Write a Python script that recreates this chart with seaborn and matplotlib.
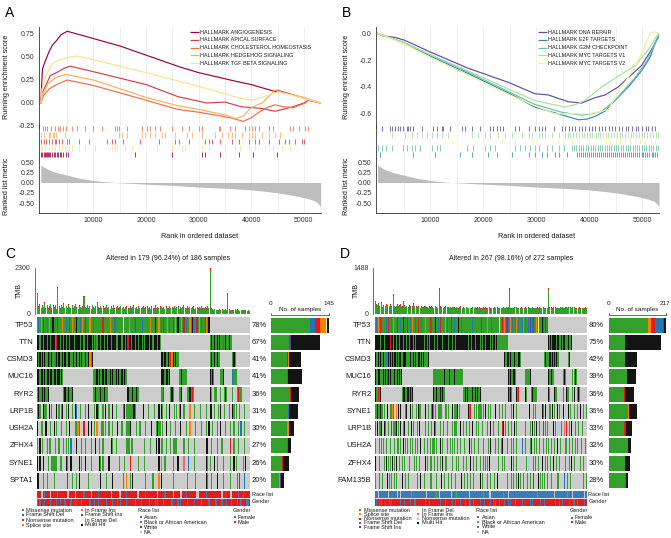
import numpy as np
import pandas as pd
import matplotlib
matplotlib.use("Agg")
import matplotlib.pyplot as plt
from matplotlib.colors import ListedColormap
import seaborn as sns

sns.set_theme(style="white")
plt.rcParams["font.family"] = ["Liberation Sans", "DejaVu Sans"]
plt.rcParams["axes.unicode_minus"] = False

# ======================= GSEA data (ranks in thousands) =======================
metric_rank = [0, 0.5, 1.5, 3, 5, 7.5, 10, 12, 14, 17, 20, 25, 30, 35, 40, 43, 46, 49, 51, 52.3, 53.0, 53.2]
metric_val = [0.43, 0.38, 0.31, 0.24, 0.18, 0.10, 0.05, 0.02, 0.0, -0.02, -0.04, -0.07, -0.11, -0.14,
              -0.18, -0.22, -0.27, -0.34, -0.40, -0.46, -0.55, -0.60]

a_names = ["HALLMARK ANGIOGENESIS", "HALLMARK APICAL SURFACE", "HALLMARK CHOLESTEROL HOMEOSTASIS",
           "HALLMARK HEDGEHOG SIGNALING", "HALLMARK TGF BETA SIGNALING"]
a_colors = ["#9E0142", "#D53E4F", "#F46D43", "#FDAE61", "#FEE08B"]
a_angio_x = [0, 0.15, 0.3, 0.8, 1.5, 2.2, 3.0, 3.8, 5.0, 15, 26.5, 30, 37.5, 40, 44.8, 44.85, 53.2]
a_angio_y = [0, 0.2, 0.37, 0.45, 0.55, 0.63, 0.68, 0.74, 0.78, 0.62, 0.39, 0.33, 0.23, 0.2, 0.12, 0.14, 0.0]
a_apical_x = [0, 0.2, 1.0, 1.8, 3.0, 4.5, 5.6, 10, 20, 26, 31.5, 35, 38, 42, 44.5, 46, 48, 50, 50.8, 53.2]
a_apical_y = [0, 0.1, 0.2, 0.3, 0.33, 0.38, 0.40, 0.34, 0.2, 0.07, 0.0, 0.01, -0.04, -0.06, -0.09, -0.07,
              -0.04, 0.0, 0.03, 0.0]
a_chol_x = [0, 0.5, 1.5, 3.0, 5.0, 10, 20, 26, 30, 36, 38.5, 40, 41.5, 43, 44.5, 46, 48, 50.3, 50.8, 53.2]
a_chol_y = [0, 0.08, 0.15, 0.2, 0.25, 0.19, 0.03, -0.07, -0.1, -0.16, -0.2, -0.16, -0.1, -0.05, -0.02,
            -0.04, -0.05, 0.0, 0.03, 0.0]
a_hedge_x = [0, 0.4, 1.5, 3.0, 4.7, 10, 20, 26, 30, 35, 37, 38.5, 40, 42, 43.5, 44.5, 47, 50, 53.2]
a_hedge_y = [0, 0.1, 0.22, 0.28, 0.31, 0.25, 0.06, -0.03, -0.07, -0.13, -0.17, -0.14, -0.05, 0.0, 0.08,
             0.14, 0.1, 0.06, 0.0]
a_tgf_x = [0, 0.2, 1.0, 2.0, 3.5, 5.5, 7.0, 10, 20, 30, 35, 38, 40, 42, 44, 45, 48, 53.2]
a_tgf_y = [0, 0.15, 0.3, 0.42, 0.47, 0.5, 0.51, 0.47, 0.33, 0.18, 0.1, 0.05, 0.03, 0.06, 0.1, 0.12, 0.08, 0.0]

a_hits_chol = [0.33, 0.71, 1.15, 1.97, 2.73, 3.18, 3.69, 4.13, 4.76, 5.9, 6.85, 8.43, 10.0, 11.6, 14.0, 14.45,
               14.9, 16.35, 19.2, 20.15, 20.8, 21.75, 22.7, 24.9, 26.8, 28.1, 30.0, 30.6, 33.8, 34.1, 36.0,
               36.95, 38.85, 39.5, 40.1, 40.75, 41.4, 43.3, 44.2, 47.4, 48.0, 49.0, 50.25, 50.75]
a_hits_hedge = [0.08, 0.52, 1.47, 1.79, 2.23, 2.42, 2.86, 4.64, 14.8, 15.4, 16.35, 19.2, 19.85, 20.8, 21.75,
                23.0, 23.65, 25.55, 27.75, 28.7, 30.6, 33.15, 34.4, 35.65, 36.3, 36.95, 38.2, 39.5, 40.1,
                40.75, 42.0, 43.3, 44.55, 45.5]
a_hits_apical = [0.08, 0.52, 0.96, 1.6, 2.1, 2.6, 2.86, 3.37, 4.0, 4.95, 5.27, 7.17, 9.07, 12.55, 13.5, 14.15,
                 15.7, 18.9, 22.4, 25.55, 26.2, 28.1, 31.25, 31.9, 32.5, 34.1, 36.3, 37.6, 39.5, 40.75, 41.4,
                 43.3, 45.2, 46.45, 47.1, 48.35, 49.6, 50.1]
a_hits_tgf = [0.05, 0.2, 0.84, 1.47, 2.1, 2.74, 3.37, 4.0, 4.64, 4.95, 5.27, 5.9, 7.17, 8.44, 10.35, 13.5,
              14.15, 14.45, 16.05, 17.3, 22.05, 24.9, 26.8, 27.45, 30.6, 31.9, 35.05, 36.95, 37.9, 39.5,
              40.75, 42.65, 43.3, 44.2, 45.8, 47.4]
a_hits_angio = [0.1, 0.3, 0.5, 0.7, 0.9, 1.1, 1.3, 1.5, 1.8, 2.1, 2.4, 2.7, 3.0, 3.3, 3.6, 3.9, 4.3, 4.7, 5.1,
                17.9, 24.9, 30.6, 31.2, 34.1, 37.6, 40.4, 44.8]

b_names = ["HALLMARK DNA REPAIR", "HALLMARK E2F TARGETS", "HALLMARK G2M CHECKPOINT",
           "HALLMARK MYC TARGETS V1", "HALLMARK MYC TARGETS V2"]
b_colors = ["#5E4FA2", "#3288BD", "#66C2A5", "#ABDDA4", "#E6F598"]
b_dna_x = [0, 1.0, 3.2, 5, 10, 17.1, 25, 29.7, 32.3, 36, 38.6, 41.1, 43, 45.5, 47.4, 49.9, 51.8, 53.1]
b_dna_y = [0, -0.02, -0.03, -0.05, -0.14, -0.26, -0.37, -0.45, -0.46, -0.51, -0.52, -0.48, -0.46, -0.40,
           -0.33, -0.24, -0.12, -0.03]
b_e2f_x = [0, 5, 10, 17.1, 25, 29.7, 35, 38, 39.5, 41.1, 43, 44.9, 47.4, 49.9, 51.5, 52.5, 53.2]
b_e2f_y = [0, -0.07, -0.17, -0.30, -0.45, -0.55, -0.61, -0.645, -0.64, -0.62, -0.58, -0.5, -0.4, -0.28,
           -0.18, -0.07, -0.01]
b_g2m_x = [0, 5, 10, 17.1, 25, 29.7, 35, 38.6, 40.5, 42.4, 44.9, 48.7, 51, 52.5, 53.2]
b_g2m_y = [0, -0.07, -0.16, -0.29, -0.44, -0.53, -0.59, -0.61, -0.6, -0.58, -0.5, -0.33, -0.2, -0.07, -0.01]
b_myc1_x = [0, 5, 10, 17.1, 25, 29.7, 33, 35.4, 37.5, 39.2, 42.4, 45.5, 48.7, 51.2, 53.1]
b_myc1_y = [0, -0.07, -0.16, -0.28, -0.42, -0.5, -0.53, -0.55, -0.53, -0.5, -0.4, -0.32, -0.24, -0.12, 0.0]
b_myc2_x = [0, 5, 10, 17.1, 25, 29.7, 33.5, 37, 40, 43.6, 45.5, 48.7, 49.9, 51.5, 52.5, 53.1]
b_myc2_y = [0, -0.08, -0.18, -0.31, -0.46, -0.54, -0.6, -0.6, -0.6, -0.57, -0.44, -0.25, -0.15, 0.0, 0.01, 0.0]

b_hits_dna = [0.76, 2.34, 2.78, 3.28, 3.79, 4.23, 4.86, 5.49, 5.81, 6.12, 6.76, 8.33, 10.54, 11.17, 12.12,
              12.44, 13.7, 15.91, 16.54, 17.8, 19.38, 21.28, 21.91, 22.54, 23.17, 23.8, 26.01, 26.64, 28.54,
              29.8, 30.43, 31.06, 31.69, 33.27, 34.85, 35.4, 36.2, 36.7, 37.3, 38.1, 38.6, 39.2, 39.9, 40.6,
              41.1, 41.8, 42.5, 43.0, 43.7, 44.4, 44.9, 45.6, 46.2, 46.9, 47.4, 48.1, 48.8, 49.3, 50.0, 50.7,
              51.2, 51.9, 52.5]
b_hits_myc1 = [2.65, 5.18, 6.44, 7.39, 8.33, 9.28, 10.23, 11.17, 12.12, 13.38, 17.8, 19.07, 20.33, 21.28,
               22.85, 24.12, 25.38, 27.27, 28.54, 29.17, 30.43, 31.06, 31.69, 32.95, 34.22, 35.5, 36.0, 36.4,
               37.0, 37.5, 38.0, 38.6, 39.0, 39.5, 40.1, 40.6, 41.2, 41.6, 42.1, 42.7, 43.2, 43.6, 44.2, 44.7,
               45.3, 45.8, 46.2, 46.8, 47.3, 47.9, 48.3, 48.8, 49.4, 49.9, 50.3, 50.9, 51.5, 52.0, 52.6, 53.0]
b_hits_myc2 = [14.0, 23.5, 26.0, 29.2, 34.2, 36.7, 38.0, 43.1, 44.0, 45.0, 45.9, 46.8, 47.8, 48.7, 49.7,
               50.6, 51.6, 52.5]
b_hits_g2m = [0.13, 0.76, 1.52, 2.65, 4.86, 5.49, 6.44, 7.07, 8.02, 10.23, 11.17, 11.81, 16.86, 18.12, 20.33,
              21.28, 22.22, 26.01, 26.96, 27.9, 28.85, 29.8, 30.43, 32.01, 32.95, 34.22, 35.17, 36.7, 37.2,
              37.6, 38.1, 38.5, 38.9, 39.4, 39.8, 40.3, 40.7, 41.1, 41.6, 42.0, 42.5, 42.9, 43.3, 43.8, 44.2,
              44.7, 45.1, 45.5, 46.0, 46.4, 46.9, 47.3, 47.7, 48.2, 48.6, 49.1, 49.5, 49.9, 50.4, 50.8, 51.3,
              51.7, 52.1, 52.6, 53.0]
b_hits_e2f = [0.44, 6.76, 10.86, 15.59, 17.8, 20.96, 22.54, 25.38, 28.54, 29.8, 31.06, 32.01, 33.59, 34.22,
              35.8, 37.7, 38.1, 38.5, 38.8, 39.2, 39.6, 40.0, 40.4, 40.7, 41.1, 41.5, 41.9, 42.3, 42.6, 43.0,
              43.4, 43.8, 44.2, 44.5, 44.9, 45.3, 45.7, 46.1, 46.4, 46.8, 47.2, 47.6, 48.0, 48.3, 48.7, 49.1,
              49.5, 49.9, 50.2, 50.6, 51.0, 51.4, 51.8, 52.1, 52.5, 52.9]

rank_ticks = [10000, 20000, 30000, 40000, 50000]

# ======================= Oncoplot data =======================
# codes: . none, M missense, F frame shift del, N nonsense, S splice site, I in frame ins,
#        X frame shift ins, D in frame del, H multi hit, O nonsense (light blue, panel D)
c_genes = ["TP53", "TTN", "CSMD3", "MUC16", "RYR2", "LRP1B", "USH2A", "ZFHX4", "SYNE1", "SPTA1"]
c_pcts = ["78%", "67%", "41%", "41%", "36%", "31%", "30%", "27%", "26%", "20%"]
c_title = "Altered in 179 (96.24%) of 186 samples"
c_tmb_max = 2300
c_bar_max = 145
c_rows = [
    "MFMSMNMMFM SMMHMFMNMM MSMMFMMNMS MMMHMMFMSM NMMMSMMFMM MMMMMNMMMM MSMMMFMMMM MMDMMMMSMM "
    "MMNMMMMMFM MMMMMSMMMH MMSMFMNMMS MFMMNMSMHM MSMNMFMMSM HMFMNMSMFM MNSMH" + "." * 34,
    "HHMHHMHHMH HMHHHMNHHM HHMHMHHMHH HMHHHHMHHM HHMHHHMHMX MHHMHHMHHM HHMHHHMMHH HMHHMHNHHM "
    "HHMHHMHHMH MHHHMHHMHH HMHM" + "." * 41 + "MHMMHMHMHMMFMHMMHMM" + "." * 15,
    "HMHMH MHMMH NMHMM FHMHM MHMHM MHHMM HMMHM HMHMM HMMHS MH" + "." * 57 + "HHMHM MHMNS HMHMM"
    + "." * 26 + "MHMMH MHMM" + "." * 10 + "MHM" + "." * 12,
    "HHMHH MHMHH MHHMH HMHHM HM" + "." * 25 + "MMFHM HMMHM HHMMH MHMMH MHMMH MHMM" + "." * 28
    + "HHHMHHMH" + "." * 7 + "MMHMMMM" + "." * 19 + "HMHM" + "." * 5 + "MMH" + "." * 7 + "FMMM" + "." * 11,
    "MHMMHMHMMH" + "." * 12 + "MHMMHMMH" + "." * 17 + "MMHMMMHMMHMMM" + "." * 16 + "HMMMHMMHMM" + "." * 18
    + "MMN" + "." * 5 + "MHM" + "." * 4 + "MMH" + "." * 4 + "MMHMNM" + "." * 13 + "HM" + "." * 2 + "MM"
    + "." * 3 + "M" + "." * 2 + "MHM" + "." * 4 + "M" + "." * 3 + "MNMM" + "." * 7,
    "MHM..HMM.. H.M...H.M. MH..M.H..M ..HF..M... M..H....M. HM...M.H.. M..H..M... ..MH.MMMMM MHM......H "
    "...M....M. ..H.HM..M. .H...M.M.M H..M....S. ..M....M.. ..M..HH..M ..M.H..M.. .M..HM.M.. M...M.....",
    "H..MM..H.. .M..H.M... M...M..H.. ..MMSM...N ...H.H..M. S...MM.M.. M..M...H.. .M...MMMH. ...M..M... "
    ".M....H... MHMM.M..H. ..M...M... H....M..S. ...M....M. ..M.H..M.. .M..H...M. ..M..M...M .F..M.....",
    "M.H.M...M. MM...M..M. ..M.M.M.F. ...H...M.. M....M...H ..M..M.... ..HM..M... .....MMM.M M......... "
    "M....M.... H.H.MM..M. ..M.MMMM.. ...M...M.. ..M....... ..HH..M... .M...M.... ..N..M...M ....M.....",
    "H.H..H...M ..MMMMM..M M...HM..H. .....H.M.. H....M.... ..HM.M.... H........M ...M....N. .....M.... "
    "M......... ..H.I..M.. ....M...H. ...I...F.. ..M....... ..HM.M...H .M....M... ..M..H.M.. ...M.H....",
    "HH...M..M. ....M..... .....N...M ...M.H.... ...M...... ...H....M. ...H...... ..M..S..M. H......... "
    ".M.....M.. ..S.H..... ....M..... ......M... ...M...... ..HM..M... .H....M... ..M.....M. X...F.....",
]
c_tmb = [1050, 380, 480, 290, 420, 340, 560, 300, 450, 260,
         370, 500, 270, 420, 320, 450, 240, 1330, 380, 300,
         430, 340, 530, 290, 400, 260, 460, 350, 300, 420,
         270, 370, 480, 320, 240, 420, 340, 290, 380, 870,
         350, 300, 420, 270, 370, 240, 450, 320, 290, 380,
         560, 340, 270, 400, 300, 370, 260, 350, 430, 290,
         320, 240, 380, 300, 420, 270, 340, 370, 260, 320,
         400, 290, 350, 240, 320, 380, 270, 300, 370, 260,
         340, 420, 290, 320, 240, 370, 300, 270, 350, 400,
         260, 320, 380, 290, 340, 240, 370, 300, 270, 420,
         300, 350, 260, 380, 320, 290, 340, 240, 370, 300,
         270, 400, 300, 340, 260, 370, 290, 320, 380, 240,
         350, 290, 320, 420, 270, 300, 370, 260, 340, 290,
         320, 380, 240, 300, 350, 270, 340, 290, 370, 260,
         300, 340, 270, 370, 290, 2300, 260, 220, 190, 240,
         170, 200, 180, 230, 160, 210, 190, 170, 240, 200,
         1020, 220, 180, 200, 160, 190, 230, 170, 210, 180,
         150, 200, 170, 190, 160, 180, 140, 170, 150, 160]
c_race = ("WWWUUWBWWW WUWWWWWBWW WWWWWUUWWW WWUWWWWWWB WWWWWUWWWW WBWWWWWWWW WWUWWWWWWU UWWWWBWWWW "
          "WWWWUUWWWW WBWWWWWWWW WUWWWWWBWW WWWWUWWWWW UUWWWBWWWW WWWWUUWWWW WWBWWWWWWW WWWWWUWWBW "
          "WWUUWWWWWA WWWBWWWWWW")
c_gender = ("FMFMMMFMMM MFMMMMFMMF MMMFMMMMFM MMFMMMMFMM MMMMFMMMFM MFMMMMMMFM MMMFMMMFMM FMMMMFMMMM "
            "MMFMMMMFMM MMMMFMMMMF MFMMMMFMMM MMMFMMMMFM FMMMMMFMMM MMFMMMMMFM MMMMFMMMMM FMMMMFMMMF "
            "MMMFMMMMFM MFMMMMFFMM")

d_genes = ["TP53", "TTN", "CSMD3", "MUC16", "RYR2", "SYNE1", "LRP1B", "USH2A", "ZFHX4", "FAM135B"]
d_pcts = ["80%", "75%", "42%", "39%", "36%", "36%", "33%", "32%", "30%", "28%"]
d_title = "Altered in 267 (98.16%) of 272 samples"
d_tmb_max = 1488
d_bar_max = 217
d_rows = [
    "MFMMSMNMFM MMHMFMMNMM FMMSMMFMNM MMFMMHMMFM NMMMFMMSMM MFMMNMMMFM MMMSMFMMMN MFMMMMHMMF "
    "MMNMFMMMSM MFMMMMNMMM FMMMMHMMFM MMMMMMMMMM MMFMMMMMMM MMMMNMMMMM MSMMMMFMMM MMMMMMDMMM "
    "NMFSMXNMFM SMNFMMFMSM FMNMMFMSMF MNMFMXMMFN MFMSMDMFMM HMFMXMNF" + "." * 49,
    "HHMHHHMHHH HMHHHHMHHN HHHMHHHMHH MHHHHMHHHM HHHMHHHHMH HMHHHMHHHH HHMHHHMHMH HHHHMHHHMH "
    "MHHHHMHHHH HHMHHHHMHH HMHHMHHHHM HHHHMHHMHH HMHHHHMHHH HHMHHMHHHM HHHHHMHMHH HMHHMMMMMM MMMMMMMM"
    + "." * 50 + "HMHHM HHMHH MHHHM MHHMH HMHMM HMHMH" + "." * 19,
    "HMHMH MHHMM HMHMF MHHMH MMHMH HMMHM HMHMM HMHHM MHMMH MHMHM MHMMH MHMHM MHMMM HMH" + "." * 95
    + "HMMHM HMHMH MMHMH MMHHM M" + "." * 29 + "MHMHM MHMHM HMMHM HMHM" + "." * 11 + "MH" + "." * 17,
    "HMHMH HMHMM HMHHM NMHMH MHMMH MHMHM HMMH" + "." * 39 + "MMHMM MMHMM MMMMH MMMMM HMMMM MMHMM MHMMM MHM"
    + "." * 57 + "HMHMHMHHM" + "." * 12 + "MMHMMMHM" + "." * 21 + "HMHMHMM" + "." * 12 + "MHMM" + "." * 7
    + "M" + "." * 1 + "MMHM" + "." * 13,
    "HMHMNMHM" + "." * 26 + "MHMHMMHMHMHMMH" + "." * 25 + "HMHMHMMHMHMHHMM" + "." * 23
    + "MMHMMHMHMMMHMMMHMMHMMHM" + "." * 34 + "HMHM" + "." * 5 + "MHMN" + "." * 8 + "HMM" + "." * 5
    + "MHMMIMM" + "." * 14 + "HMM" + "." * 4 + "MHMM" + "." * 8 + "M" + "." * 3 + "HMM" + "." * 4 + "M"
    + "." * 1 + "MH" + "." * 2 + "MMHM" + "." * 9,
    "MMHHMMH.MM .M...HM..M MMSM..MS.H ..H.....MH .M..H..M.. ..M.H.MM.. M..H...M.. HMHM..M..M MMMMM...M. "
    "M.M....H.. MMMH..M..M ....M..H.M N....M.M.. MMMMM.M..H ..M..M..M. .H....M... M.H.M..M.. .M..H...M. "
    "..M...M... .M..H....M ..M...M... HHM.H.M..M .M.H..M..H ..M..M.H.. M..H..M... .M...M..H. ..M...M...",
    "N..H.MM.H. .H.M..MM.. N..MMMMH.M ..H..M.H.. ..M..H..M. ...M..H... M..M...M.. HM..H.M... ..M...M..M "
    ".M..H..M.. MMM.M..H.. .M...M...M ..H....M.. M..M.M..M. .M...H...M ..M..M.... NH..M...M. .M...H..M. "
    "..I...M..M .M...M..H. M..H...M.. .HN.M..M.. M...H..M.. .O..M...I. .N..M..H.. ..M...M... .M..M.....",
    "M.F..M..M. M...M.H..M .M..M...MM ..M..H..M. M...M..M.. .M.M...H.. ..M...M..M M.MMM..M.. ..H..M...M "
    ".M...M.M.. M..M...M.. ..M.M....H .M...M..M. M..M..M... ..M..H..M. .M...M...M H.M...M... .M..M...M. "
    "..M..F...M .M...M.H.. M..M...M.. .HM..M..M. ..M...M..H M..M.D...M .M..M...M. ..M..M.... M....M....",
    "H.M..M.H.. .M..H..M.M ..H.M..H.. M...M..M.. .H.M..H..M ..M...M... M..H..M..M .M..M...M. ..M..H..M. "
    "M...M..M.. ..M..M...H .M...M..M. H...M..M.. ..M...M..M .M..H...M. ..M..M.... M..M...M.. .H..M...M. "
    "..M...M... M..O..H..M ..M..M.... HM..M..M.. .M..H...M. ..M..M...M M...M..H.. .M..M...M. ..M.....M.",
    "M.H..M...M ..M..H..M. M...M..M.. .M..H...M. ..M...M... M..M...H.. ..M..M...M .M...M.M.. M..H...M.. "
    "..M...M..M .M..M...H. ..M...M... M...M...M. ..H..M.... .M...M..M. M...H..M.. ..M...M... .M..M...M. "
    "H..M...M.. ..M..M...N .M...H..M. M..M...M.. ..M..X...M .M...M..F. ..M...M... M...M....M ..M...M...",
]
d_tmb = [420, 310, 925, 280, 350, 240, 300, 260, 380, 220,
         290, 330, 890, 250, 310, 270, 230, 340, 260, 300,
         240, 280, 320, 630, 260, 210, 290, 250, 310, 230,
         270, 220, 300, 260, 240, 420, 230, 280, 210, 260,
         250, 230, 200, 280, 240, 260, 210, 230, 350, 250,
         220, 260, 240, 200, 230, 210, 250, 190, 240, 220,
         260, 210, 230, 250, 200, 240, 220, 190, 230, 210,
         200, 240, 220, 180, 230, 210, 250, 200, 190, 220,
         210, 830, 230, 200, 190, 220, 180, 210, 240, 200,
         190, 220, 200, 180, 230, 210, 190, 200, 220, 180,
         200, 180, 220, 190, 210, 170, 200, 230, 190, 210,
         180, 210, 190, 200, 170, 220, 190, 180, 210, 200,
         190, 170, 210, 180, 200, 190, 220, 170, 190, 200,
         180, 200, 170, 210, 190, 180, 200, 170, 190, 210,
         170, 190, 200, 180, 210, 170, 190, 200, 180, 170,
         200, 180, 190, 170, 210, 190, 180, 200, 170, 190,
         180, 200, 170, 190, 180, 210, 170, 190, 200, 830,
         190, 170, 200, 180, 190, 210, 180, 170, 200, 190,
         180, 210, 190, 170, 200, 180, 190, 210, 170, 200,
         190, 180, 200, 210, 170, 190, 200, 180, 210, 190,
         180, 200, 190, 170, 210, 190, 180, 200, 190, 170,
         200, 180, 210, 190, 170, 200, 190, 180, 830, 210,
         190, 180, 200, 170, 210, 190, 180, 200, 190, 170,
         200, 190, 180, 210, 170, 1488, 200, 190, 180, 200,
         190, 210, 180, 200, 170, 190, 200, 180, 210, 190,
         180, 200, 190, 170, 200, 180, 190, 200, 170, 190,
         200, 180, 190, 170, 180, 200, 190, 170, 180, 190]
d_race = ("WWWWUWWWWW WWBWWWWUWW WWWWWWWWUW WWUWWWWWWW WWWWWBWWWW UWWWWWWWWW WWWWUWWWWW WWWWWWWBWW "
          "WUWWWWWWWW WWWWWWUWWW WWBWWWWWWW WWWWWWWWWU WWWUWWWWWW WWWWWWBWWW WWWWUUWWWW WWWWWWWWWW "
          "WBWWWWWWUW WWWWWWWWWW WWUWWWWAWW WWWWWWWWWW WWWWBWWWWW WUWWWWWWWW WWWWWWUWWW WWWWWWWWWW "
          "WWBWWWWWUW WWWWWWWWWW WWWUWWWWWW")
d_gender = ("MFMMMFMMFM MMMFMMMMFM FMMMMMFMMM MMFMMMMFMM MMMMFMMMMF MFMMMFMMMM MMMFMMMMFM FMMMMFMMMM "
            "MMFMMMMMFM MMMMFMMFMM MFMMMMMFMM MMMFMMMMMF FMMMFMMMMM MMFMMMMFMM MMMMMFMMMF MFMMMMFMMM "
            "MMMFMMMMFM FMMMMMFMMM MMFMMFMMMM MMMMMFMMFM MFMMMMMMFM MMMFMMFMMM FMMMMMMFMM MMFMMMFMMM "
            "MMMMFMMMMF MFMMMFMMMM MMMFMMMMFM")

MUT_COL = {".": "#CCCCCC", "M": "#33A02C", "F": "#1F78B4", "N": "#E31A1C", "S": "#FF7F00", "I": "#EE6A6A",
           "X": "#6A3D9A", "D": "#FFFF99", "H": "#141414", "O": "#A6CEE3"}
c_mut_legend = [("Missense mutation", "M"), ("Frame Shift Del", "F"), ("Nonsense mutation", "N"),
                ("Splice site", "S"), ("In Frame Ins", "I"), ("Frame Shift Ins", "X"),
                ("In Frame Del", "D"), ("Multi Hit", "H")]
d_mut_legend = [("Missense mutation", "M"), ("Splice site", "S"), ("Nonsense mutation", "N"),
                ("Frame Shift Del", "F"), ("Frame Shift Ins", "X"), ("In Frame Del", "D"),
                ("In Frame Ins", "I"), ("Nonsense mutation", "O"), ("Multi Hit", "H")]
c_race_pal = {"A": ("Asian", "#984EA3"), "B": ("Black or African American", "#377EB8"),
              "W": ("White", "#E41A1C"), "U": ("NA", "#C8C8C8")}
d_race_pal = {"A": ("Asian", "#984EA3"), "B": ("Black or African American", "#4DAF4A"),
              "W": ("White", "#377EB8"), "U": ("NA", "#C8C8C8")}
gender_pal = {"F": ("Female", "#377EB8"), "M": ("Male", "#E41A1C")}

# ======================= figure =======================
W, H = 671, 538
fig = plt.figure(figsize=(W / 100, H / 100), dpi=100)
ov = fig.add_axes([0, 0, 1, 1])
ov.set_xlim(0, W)
ov.set_ylim(H, 0)
ov.axis("off")
ov.set_zorder(10)

TXT = "#1A1A1A"
TICK_KW = dict(labelsize=5, length=2, width=0.5, pad=1.2, colors="#333333")


def px_axes(x0, y0, x1, y1):
    return fig.add_axes([x0 / W, 1 - y1 / H, (x1 - x0) / W, (y1 - y0) / H])


def clean(s, n):
    s = s.replace(" ", "")
    return s[:n].ljust(n, ".")


GRID = np.arange(5000, 53001, 5000)
XLIM = (-300, 53200)


def gsea(x0, x1, names, colors, curves, es_lim, es_ticks, es_labels, hit_rows, leg_x, lab_x, xlab_x):
    ax = px_axes(x0, 27, x1, 128)
    frames = [pd.DataFrame({"rank": np.asarray(cx) * 1000, "es": cy, "set": nm})
              for nm, (cx, cy) in zip(names, curves)]
    df = pd.concat(frames, ignore_index=True)
    sns.lineplot(data=df, x="rank", y="es", hue="set", hue_order=names,
                 palette=dict(zip(names, colors)), estimator=None, sort=False,
                 linewidth=0.85, legend=False, ax=ax)
    ax.set_xlim(*XLIM)
    ax.set_ylim(*es_lim)
    ax.set_yticks(es_ticks)
    ax.set_yticklabels(es_labels)
    ax.set_xticks(GRID)
    ax.grid(axis="x", color="#EBEBEB", lw=0.6)
    ax.tick_params(axis="x", length=0, labelbottom=False)
    ax.tick_params(axis="y", **TICK_KW)
    ax.set_xlabel("")
    ax.set_ylabel("")
    for s in ["top", "right", "bottom"]:
        ax.spines[s].set_visible(False)
    ax.spines["left"].set_linewidth(0.6)
    ax.spines["left"].set_color("#333333")

    axt = px_axes(x0, 125, x1, 158)
    axt.patch.set_alpha(0)
    nrow = len(hit_rows)
    for i, (hits, col) in enumerate(hit_rows):
        axt.vlines(np.asarray(hits) * 1000, nrow - i - 1 + 0.08, nrow - i - 0.08, color=col,
                   lw=0.7, alpha=0.8)
    axt.set_xlim(*XLIM)
    axt.set_ylim(0, nrow)
    axt.set_xticks(GRID)
    axt.set_yticks([])
    axt.grid(axis="x", color="#F2F2F2", lw=0.6)
    axt.tick_params(axis="x", length=0, labelbottom=False)
    for s in ["top", "right", "bottom"]:
        axt.spines[s].set_visible(False)
    axt.spines["left"].set_linewidth(0.6)
    axt.spines["left"].set_color("#333333")

    axr = px_axes(x0, 158, x1, 213)
    axr.patch.set_alpha(0)
    mr = np.asarray(metric_rank) * 1000
    axr.fill_between(mr, metric_val, 0, color="#BDBDBD", lw=0)
    axr.set_xlim(*XLIM)
    axr.set_ylim(-0.744, 0.598)
    axr.set_yticks([0.5, 0.25, 0, -0.25, -0.5])
    axr.set_yticklabels(["0.50", "0.25", "0.00", "-0.25", "-0.50"])
    axr.set_xticks(rank_ticks)
    axr.set_xticklabels([str(v) for v in rank_ticks])
    axr.set_xticks([g for g in GRID if g not in rank_ticks], minor=True)
    axr.grid(axis="x", which="both", color="#EBEBEB", lw=0.6)
    axr.tick_params(axis="both", which="major", **TICK_KW)
    axr.tick_params(axis="x", which="minor", length=0)
    for s in ["top", "right"]:
        axr.spines[s].set_visible(False)
    for s in ["left", "bottom"]:
        axr.spines[s].set_linewidth(0.6)
        axr.spines[s].set_color("#333333")

    for i, (nm, col) in enumerate(zip(names, colors)):
        y = 32 + 7.8 * i
        ov.plot([leg_x, leg_x + 9], [y, y], color=col, lw=0.9, solid_capstyle="butt")
        ov.text(leg_x + 11, y, nm, fontsize=3.9, va="center", ha="left", color=TXT)
    ov.text(lab_x, 77, "Running enrichment score", fontsize=5.2, rotation=90, ha="center",
            va="center", color=TXT)
    ov.text(lab_x, 186, "Ranked list metric", fontsize=5.2, rotation=90, ha="center", va="center",
            color=TXT)
    ov.text(xlab_x, 236, "Rank in ordered dataset", fontsize=5.2, ha="center", va="center", color=TXT)


gsea(39.3, 320.7, a_names, a_colors,
     [(a_angio_x, a_angio_y), (a_apical_x, a_apical_y), (a_chol_x, a_chol_y),
      (a_hedge_x, a_hedge_y), (a_tgf_x, a_tgf_y)],
     (-0.272, 0.826), [0.75, 0.5, 0.25, 0, -0.25], ["0.75", "0.50", "0.25", "0.00", "-0.25"],
     [(a_hits_chol, a_colors[2]), (a_hits_hedge, a_colors[3]), (a_hits_apical, a_colors[1]),
      (a_hits_tgf, a_colors[4]), (a_hits_angio, a_colors[0])],
     189.5, 7, 200)
gsea(376, 659, b_names, b_colors,
     [(b_dna_x, b_dna_y), (b_e2f_x, b_e2f_y), (b_g2m_x, b_g2m_y), (b_myc1_x, b_myc1_y),
      (b_myc2_x, b_myc2_y)],
     (-0.706, 0.047), [0, -0.2, -0.4, -0.6], ["0.0", "-0.2", "-0.4", "-0.6"],
     [(b_hits_dna, b_colors[0]), (b_hits_myc1, b_colors[3]), (b_hits_myc2, b_colors[4]),
      (b_hits_g2m, b_colors[2]), (b_hits_e2f, b_colors[1])],
     537.5, 346, 537)

RED_FRAC = 0.07  # styling: red cap on each TMB bar
ROW_TOP, ROW_BOT = 316.5, 489.0


def oncoplot(x0, x1, bx0, bx1, genes, rows, pcts, tmb, tmb_max, race, gender, race_pal,
             mut_legend, bar_max, title, title_x, lab_x, pct_x, tmb_lab_x, leg):
    n = len(tmb)
    rows = [clean(r, n) for r in rows]
    race = clean(race, n)
    gender = clean(gender, n)
    tmb = np.asarray(tmb, float)

    axb = px_axes(x0, 268, x1, 313.5)
    xs = np.arange(n) + 0.5
    axb.bar(xs, tmb, width=0.85, color="#33A02C", linewidth=0)
    axb.bar(xs, tmb * RED_FRAC, bottom=tmb * (1 - RED_FRAC), width=0.85, color="#E31A1C", linewidth=0)
    axb.set_xlim(0, n)
    axb.set_ylim(0, tmb_max)
    axb.set_yticks([0, tmb_max])
    axb.set_yticklabels(["0", str(tmb_max)])
    axb.set_xticks([])
    for s in ["top", "right", "bottom"]:
        axb.spines[s].set_visible(False)
    axb.spines["left"].set_position(("outward", 1.5))
    axb.spines["left"].set_linewidth(0.5)
    axb.spines["left"].set_color("#333333")
    axb.tick_params(axis="y", **TICK_KW)
    axb.patch.set_alpha(0)

    codes = list(MUT_COL.keys())
    axm = px_axes(x0, ROW_TOP, x1, ROW_BOT)
    mat = np.array([[codes.index(c) for c in r] for r in rows])
    sns.heatmap(mat, ax=axm, cmap=ListedColormap(list(MUT_COL.values())), vmin=-0.5,
                vmax=len(codes) - 0.5, cbar=False, xticklabels=False, yticklabels=False)
    for i in range(1, len(genes)):
        axm.axhline(i, color="white", lw=1.4)

    axa = px_axes(x0, 490.5, x1, 505.5)
    rkeys = list(race_pal.keys())
    gkeys = list(gender_pal.keys())
    ann_cols = [v[1] for v in race_pal.values()] + [v[1] for v in gender_pal.values()]
    ann = np.array([[rkeys.index(c) for c in race], [len(rkeys) + gkeys.index(c) for c in gender]])
    sns.heatmap(ann, ax=axa, cmap=ListedColormap(ann_cols), vmin=-0.5, vmax=len(ann_cols) - 0.5,
                cbar=False, xticklabels=False, yticklabels=False)
    axa.axhline(1, color="white", lw=0.6)

    axs = px_axes(bx0, ROW_TOP, bx1, ROW_BOT)
    order = [c for _, c in mut_legend]
    for gi, r in enumerate(rows):
        left = 0
        for code in order:
            cnt = r.count(code)
            if cnt:
                axs.barh(gi + 0.5, cnt, left=left, height=0.86, color=MUT_COL[code], linewidth=0)
                left += cnt
    axs.set_xlim(0, bar_max)
    axs.set_ylim(len(rows), 0)
    axs.axis("off")

    pitch = (ROW_BOT - ROW_TOP) / len(genes)
    for i, (g, p) in enumerate(zip(genes, pcts)):
        y = ROW_TOP + (i + 0.5) * pitch
        ov.text(lab_x, y, g, fontsize=5.5, ha="right", va="center", color=TXT)
        ov.text(pct_x, y, p, fontsize=5.5, ha="left", va="center", color=TXT)
    ov.text(pct_x, 494.5, "Race list", fontsize=4, ha="left", va="center", color=TXT)
    ov.text(pct_x, 501.8, "Gender", fontsize=4, ha="left", va="center", color=TXT)
    ov.text(title_x, 258, title, fontsize=5, ha="center", va="center", color=TXT)
    ov.text(tmb_lab_x, 290, "TMB", fontsize=5, rotation=90, ha="center", va="center", color=TXT)
    # side bar axis bracket
    ov.plot([bx0, bx1], [315, 315], color="#333333", lw=0.5)
    ov.plot([bx0, bx0], [312.5, 315], color="#333333", lw=0.5)
    ov.plot([bx1, bx1], [312.5, 315], color="#333333", lw=0.5)
    ov.text(bx0, 303.5, "0", fontsize=4.6, ha="center", va="center", color=TXT)
    ov.text(bx1, 303.5, str(bar_max), fontsize=4.6, ha="center", va="center", color=TXT)
    ov.text((bx0 + bx1) / 2, 309.5, "No. of samples", fontsize=4.6, ha="center", va="center", color=TXT)

    # legend
    (m1x, m2x, rows1, rows2, n1, racex, race_rows, genx, gen_rows) = leg
    for k, (lab, code) in enumerate(mut_legend):
        if k < n1:
            mx, y = m1x, rows1[k]
        else:
            mx, y = m2x, rows2[k - n1]
        ov.scatter([mx], [y], s=2.2, marker="s", color=MUT_COL[code], linewidths=0)
        ov.text(mx + 3.5, y, lab, fontsize=4, ha="left", va="center", color=TXT)
    ov.text(racex - 2, 510, "Race list", fontsize=4, ha="left", va="center", color=TXT)
    for k, key in enumerate(["A", "B", "W", "U"]):
        lab, col = race_pal[key]
        ov.scatter([racex], [race_rows[k]], s=2.2, marker="s", color=col, linewidths=0)
        ov.text(racex + 3.2, race_rows[k], lab, fontsize=4, ha="left", va="center", color=TXT)
    ov.text(genx - 2, 510, "Gender", fontsize=4, ha="left", va="center", color=TXT)
    for k, key in enumerate(["F", "M"]):
        lab, col = gender_pal[key]
        ov.scatter([genx], [gen_rows[k]], s=2.2, marker="s", color=col, linewidths=0)
        ov.text(genx + 3.2, gen_rows[k], lab, fontsize=4, ha="left", va="center", color=TXT)


oncoplot(37, 250, 271, 329, c_genes, c_rows, c_pcts, c_tmb[:179], c_tmb_max, c_race, c_gender,
         c_race_pal, c_mut_legend, c_bar_max, c_title, 168, 33.5, 252, 19,
         (22.5, 81.5, [510, 515, 520, 525], [510, 515, 520, 525], 4,
          140.5, [517.3, 522.3, 527.3, 532.3], 234.5, [517.3, 522.3]))
oncoplot(375, 587, 608.5, 665.5, d_genes, d_rows, d_pcts, d_tmb[:267], d_tmb_max, d_race, d_gender,
         d_race_pal, d_mut_legend, d_bar_max, d_title, 511, 371.5, 588.5, 356,
         (360, 418.3, [510, 514.3, 518.7, 523, 527.3], [510, 514.3, 518.7, 523], 5,
          478.3, [517.3, 522.3, 527, 532], 571.7, [517.7, 522.3]))

for letter, x, y in [("A", 5, 13), ("B", 342, 13), ("C", 5, 254.5), ("D", 340, 254.5)]:
    ov.text(x, y, letter, fontsize=10, ha="left", va="center", color="black")

fig.savefig("out.png", dpi=100)
